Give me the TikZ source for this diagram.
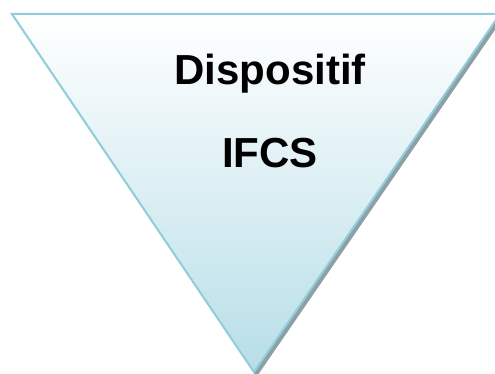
\documentclass[tikz,border=0pt]{standalone}
\usepackage{fontspec}
\setmainfont{Liberation Sans}
\usetikzlibrary{positioning, calc}
\definecolor{funnelline}{RGB}{146,205,220}
\definecolor{funnelbot}{RGB}{183,222,232}
\definecolor{funnelshadow}{RGB}{140,160,166}

\begin{document}
\begin{tikzpicture}[x = 1pt, y = -1pt]
\begin{scope}[
	funnel/.style={draw=funnelline, line width=2pt, line join=miter, top color=white, bottom color=funnelbot},
	funnelshade/.style={fill=funnelshadow},
	funneltext/.style={font=\bfseries\fontsize{42}{50}\selectfont, inner sep=0pt, anchor=base}
]
\useasboundingbox (0, 0) rectangle (495, 374);
\coordinate (tl) at (12, 14);
\coordinate (tr) at (500, 14);
\coordinate (tip) at (254, 372);
\fill[funnelshade] ($(tl)+(2.5,5)$) -- ($(tr)+(2.5,5)$) -- ($(tip)+(2.5,5)$) -- cycle;
\draw[funnel] (tl) -- (tr) -- (tip) -- cycle;
\node[funneltext] (title) at (270, 85) {Dispositif};
\node[funneltext] (ifcs) at (270, 168) {IFCS};
\end{scope}
\end{tikzpicture}
\end{document}
